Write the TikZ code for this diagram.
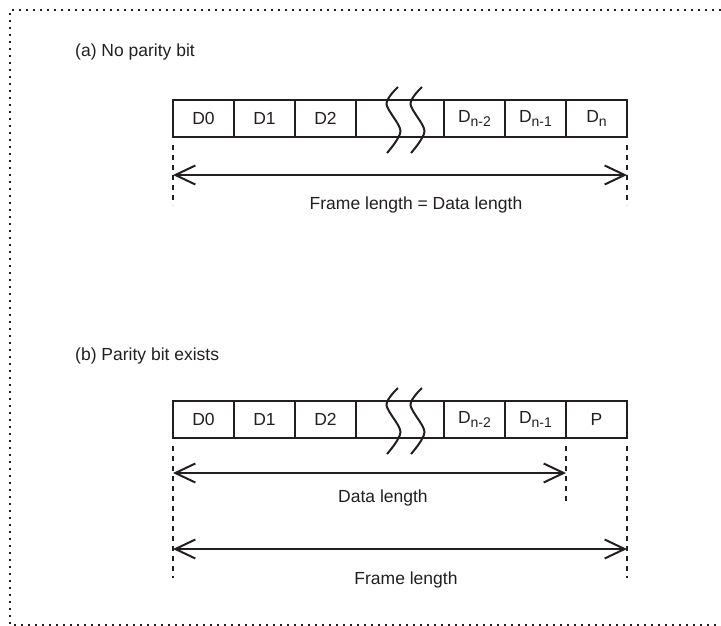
\documentclass[tikz,border=0pt]{standalone}
\usepackage{fontspec}
\setmainfont{Liberation Sans}
\usetikzlibrary{arrows.meta}
\definecolor{ink}{RGB}{35,31,32}
\newcommand{\lowsub}[1]{\raisebox{-3.5pt}{\fontsize{14}{14}\selectfont #1}}
\tikzset{
  cell/.style={draw=ink, line width=2pt, minimum width=#1, minimum height=37pt, inner sep=0pt, outer sep=0pt, text=ink, font=\fontsize{17.5}{21}\selectfont},
  cell/.default={61pt},
  guide/.style={draw=ink, line width=2pt, dash pattern=on 5pt off 5pt},
  dim/.style={{Straight Barb[length=20pt,width=19pt]}-{Straight Barb[length=20pt,width=19pt]}, line width=2pt, draw=ink},
  wave/.style={draw=ink, line width=2pt},
  lbl/.style={text=ink, inner sep=0pt, font=\fontsize{17.5}{21}\selectfont},
  border/.style={draw=ink, line width=2pt, dash pattern=on 2pt off 5pt}
}
\begin{document}
\begin{tikzpicture}[x=1pt, y=-1pt]
    \useasboundingbox (0,0) rectangle (721,626);
    \draw[border] (721,10) -- (10,10) -- (10,625) -- (721,625);
    % (a) no parity bit
    \node[lbl, anchor=base west] (ta) at (75,57) {(a) No parity bit};
    \node[cell] (a1) at (203.5,118.5) {D0};
    \node[cell] (a2) at (264.5,118.5) {D1};
    \node[cell] (a3) at (325.5,118.5) {D2};
    \node[cell=88pt] (a4) at (400,118.5) {};
    \node[cell] (a5) at (474.5,118.5) {D\lowsub{n-2}};
    \node[cell] (a6) at (535.5,118.5) {D\lowsub{n-1}};
    \node[cell] (a7) at (596.5,118.5) {D\lowsub{n}};
    % (b) parity bit exists
    \node[lbl, anchor=base west] (tb) at (75,360) {(b) Parity bit exists};
    \node[cell] (b1) at (203.5,419.5) {D0};
    \node[cell] (b2) at (264.5,419.5) {D1};
    \node[cell] (b3) at (325.5,419.5) {D2};
    \node[cell=88pt] (b4) at (400,419.5) {};
    \node[cell] (b5) at (474.5,419.5) {D\lowsub{n-2}};
    \node[cell] (b6) at (535.5,419.5) {D\lowsub{n-1}};
    \node[cell] (b7) at (596.5,419.5) {P};
    % breaks
    \foreach \dy in {0,301} \foreach \dx in {0,24}
      \draw[wave] plot[smooth] coordinates {({398+\dx},{87+\dy}) ({386.5+\dx},{104+\dy}) ({400.5+\dx},{131+\dy}) ({387+\dx},{153+\dy})};
    % dimension levels
    \coordinate (ga) at (0,205);
    \coordinate (fa) at (0,175);
    \coordinate (gd) at (0,503);
    \coordinate (db) at (0,473);
    \coordinate (gb) at (0,578);
    \coordinate (fb) at (0,549);
    \foreach \n in {a1.south west,a7.south east} \draw[guide] ([yshift=-8pt]\n) -- (\n |- ga);
    \draw[dim] (a1.west |- fa) -- (a7.east |- fa);
    \node[lbl, anchor=base] (fla) at (416,209) {Frame length = Data length};
    \draw[guide] ([yshift=-8pt]b6.south east) -- (b6.south east |- gd);
    \foreach \n in {b1.south west,b7.south east} \draw[guide] ([yshift=-8pt]\n) -- (\n |- gb);
    \draw[dim] (b1.west |- db) -- (b6.east |- db);
    \node[lbl, anchor=base] (dlb) at (383,502) {Data length};
    \draw[dim] (b1.west |- fb) -- (b7.east |- fb);
    \node[lbl, anchor=base] (flb) at (406,584) {Frame length};
\end{tikzpicture}
\end{document}
